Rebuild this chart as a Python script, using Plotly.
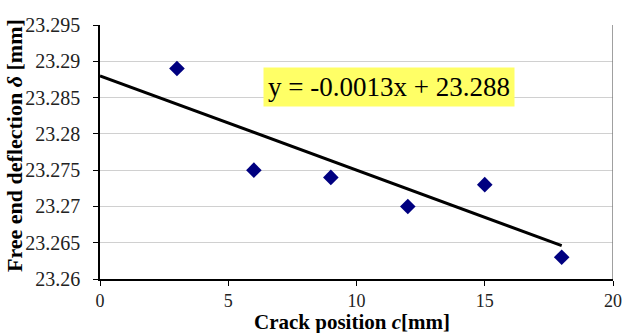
import plotly.graph_objects as go

crack_pos = [3, 6, 9, 12, 15, 18]
deflection = [23.289, 23.275, 23.274, 23.270, 23.273, 23.263]
slope = -0.0013
intercept = 23.288
trend_x = [0, 18]
trend_y = [intercept + slope * x for x in trend_x]
x_ticks = [0, 5, 10, 15, 20]
y_ticks = [23.26, 23.265, 23.27, 23.275, 23.28, 23.285, 23.29, 23.295]
y_ticklabels = ["23.26", "23.265", "23.27", "23.275", "23.28", "23.285", "23.29", "23.295"]
x_title = "<b>Crack position <i>c</i>[mm]</b>"
y_title = "<b>Free end deflection <i>δ</i> [mm]</b>"

SERIF = "Times New Roman, Liberation Serif, serif"

fig = go.Figure()
fig.add_trace(go.Scatter(x=trend_x, y=trend_y, mode="lines",
                         line=dict(color="black", width=3), showlegend=False))
fig.add_trace(go.Scatter(x=crack_pos, y=deflection, mode="markers",
                         marker=dict(symbol="diamond", color="#000080", size=12),
                         showlegend=False))

fig.add_annotation(x=11.25, y=23.2864, xref="x", yref="y",
                   text="y = -0.0013x + 23.288", showarrow=False,
                   font=dict(family=SERIF, size=27, color="black"),
                   bgcolor="#FFFF66", borderpad=4)

# axis titles
fig.add_annotation(xref="paper", yref="paper", x=0.491, y=0, yshift=-43,
                   xanchor="center", yanchor="middle", showarrow=False,
                   text=x_title, font=dict(family=SERIF, size=21, color="black"))
fig.add_annotation(xref="paper", yref="paper", x=0, y=0.5, xshift=-86, yshift=6,
                   xanchor="center", yanchor="middle", showarrow=False, textangle=-90,
                   text=y_title, font=dict(family=SERIF, size=22, color="black"))

fig.update_layout(
    width=623, height=333,
    margin=dict(l=100, r=10, t=25, b=54),
    paper_bgcolor="white", plot_bgcolor="white",
    font=dict(family=SERIF, color="black"),
    xaxis=dict(range=[0, 20], tickvals=x_ticks, showgrid=False, automargin=False,
               showline=True, linecolor="black", linewidth=1.5,
               ticks="outside", ticklen=5, tickcolor="black",
               tickfont=dict(family=SERIF, size=18, color="#222"), zeroline=False),
    yaxis=dict(range=[23.26, 23.295], tickvals=y_ticks, ticktext=y_ticklabels,
               showgrid=True, gridcolor="#d0d0d0", gridwidth=1, automargin=False,
               showline=True, linecolor="black", linewidth=1.5,
               ticks="outside", ticklen=5, tickcolor="black", ticklabelstandoff=9,
               tickfont=dict(family=SERIF, size=20, color="#222"), zeroline=False),
)
fig.add_shape(type="line", xref="x", yref="paper", x0=20, x1=20, y0=0, y1=1,
              line=dict(color="#808080", width=1.5))
fig.write_html("out.html", config={"displayModeBar": False},
               post_script="document.body.style.margin='0';document.body.style.overflow='hidden';")
